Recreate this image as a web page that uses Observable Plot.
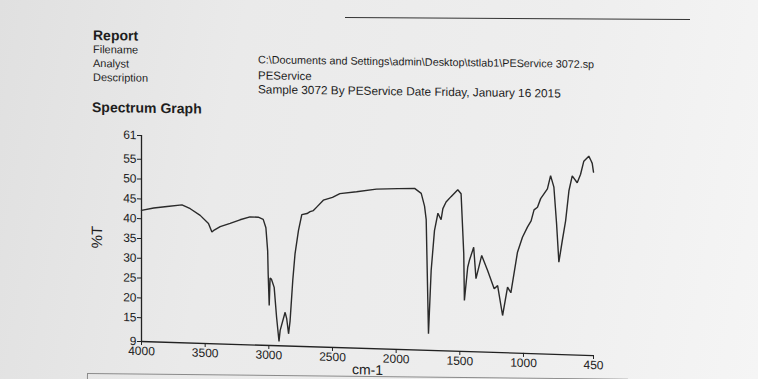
<!DOCTYPE html>
<html>
<head>
<meta charset="utf-8">
<script src="https://cdn.jsdelivr.net/npm/d3@7"></script>
<script src="https://cdn.jsdelivr.net/npm/@observablehq/plot@0.6"></script>
<style>
  html, body { margin: 0; padding: 0; }
  body {
    width: 758px; height: 379px; overflow: hidden; position: relative;
    background: linear-gradient(100deg, #e0e0e0 0%, #eaeaea 30%, #eeeeee 70%, #f5f5f5 100%);
    font-family: "Liberation Sans", Arial, sans-serif; color: #1e1e1e;
  }
  .t { position: absolute; white-space: nowrap; line-height: 0.9; }
  #header { position: absolute; left: 0; top: 0; width: 758px; height: 130px; transform: skewY(0.8deg); transform-origin: 93px 0; }
  #chart { position: absolute; left: 0; top: 0; transform: skewY(1.78deg); transform-origin: 141px 0; }
</style>
</head>
<body>
<div id="header">
  <div class="t" style="left:93px;top:29px;font-size:14px;font-weight:bold;">Report</div>
  <div class="t" style="left:93px;top:45px;font-size:11px;">Filename</div>
  <div class="t" style="left:93px;top:59px;font-size:11px;">Analyst</div>
  <div class="t" style="left:93px;top:73px;font-size:11px;">Description</div>
  <div class="t" style="left:258px;top:52.5px;font-size:10.8px;">C:\Documents and Settings\admin\Desktop\tstlab1\PEService 3072.sp</div>
  <div class="t" style="left:258px;top:68px;font-size:11.5px;">PEService</div>
  <div class="t" style="left:258px;top:81.5px;font-size:11.8px;">Sample 3072 By PEService Date Friday, January 16 2015</div>
  <div class="t" style="left:92px;top:101px;font-size:14px;font-weight:bold;">Spectrum Graph</div>
</div>
<div style="position:absolute;left:345px;top:18px;width:345px;height:1.2px;background:#333;transform:rotate(0.3deg);"></div>
<div style="position:absolute;left:87px;top:373px;width:540px;height:20px;border-top:1px solid #8a8a8a;border-left:1px solid #8a8a8a;transform:rotate(0.6deg);transform-origin:0 0;"></div>
<div id="chart"></div>
<script>
const wavenumbers = [
  4000, 3904, 3799, 3682, 3617, 3539, 3474, 3447, 3429, 3382, 3304, 3226, 3148, 3083, 3044, 3023,
  3009, 3005, 2997, 2990, 2980, 2958, 2939, 2920, 2911, 2872, 2860, 2845, 2833, 2812, 2794, 2767,
  2741, 2700, 2676, 2650, 2624, 2572, 2500, 2442, 2311, 2155, 1985, 1855, 1803, 1777, 1764, 1746,
  1725, 1699, 1672, 1647, 1633, 1608, 1569, 1516, 1490, 1469, 1464, 1438, 1425, 1391, 1373, 1328,
  1281, 1230, 1203, 1164, 1125, 1099, 1047, 1008, 969, 940, 917, 890, 865, 812, 787, 761,
  740, 722, 695, 669, 643, 617, 578, 552, 526, 487, 470, 460, 450
];
const transmittance = [
  42.1, 42.8, 43.3, 43.8, 42.9, 41.3, 39.3, 37.2, 37.7, 38.6, 39.5, 40.5, 41.3, 41.3, 40.8, 38.7,
  32.8, 27.0, 19.1, 26.0, 25.8, 23.7, 16.2, 10.1, 12.9, 17.5, 16.0, 12.1, 15.4, 25.6, 32.4, 38.3,
  42.3, 42.6, 43.1, 43.4, 44.3, 46.1, 46.9, 47.9, 48.5, 49.3, 49.6, 49.8, 48.6, 45.4, 42.0, 13.2,
  29.2, 39.3, 43.7, 42.1, 44.9, 46.6, 48.0, 49.8, 48.8, 33.7, 21.9, 30.3, 32.0, 35.4, 27.5, 33.4,
  29.6, 25.1, 25.9, 18.4, 25.6, 24.2, 34.5, 38.3, 40.9, 42.5, 45.3, 46.0, 48.2, 50.7, 54.1, 51.2,
  42.0, 32.3, 37.8, 42.8, 50.4, 54.2, 52.5, 54.6, 58.0, 59.3, 58.2, 57.5, 55.3
];
const xTicks = [4000, 3500, 3000, 2500, 2000, 1500, 1000, 450];
const yTicks = [61, 55, 50, 45, 40, 35, 30, 25, 20, 15, 9];

const data = wavenumbers.map((w, i) => ({w, t: transmittance[i]}));
const ink = "#222";

const chart = Plot.plot({
  width: 758,
  height: 379,
  marginLeft: 141,
  marginRight: 165,
  marginTop: 135,
  marginBottom: 38,
  style: {background: "transparent", fontFamily: "Liberation Sans, Arial, sans-serif", color: ink, overflow: "visible"},
  x: {domain: [4000, 450]},
  y: {domain: [9, 61]},
  marks: [
    Plot.ruleY([9], {stroke: ink, strokeWidth: 1.3}),
    Plot.ruleX([4000], {stroke: ink, strokeWidth: 1.3}),
    Plot.axisX({ticks: xTicks, tickFormat: d => String(d), tickSize: 4, tickPadding: 1, fontSize: 12,
      label: "cm-1", labelAnchor: "center", labelArrow: "none", labelOffset: 26, stroke: ink}),
    Plot.axisY({ticks: yTicks, tickFormat: d => String(d), tickSize: 4, tickPadding: 1, fontSize: 12,
      label: "%T", labelAnchor: "center", labelArrow: "none", labelOffset: 50, stroke: ink}),
    Plot.line(data, {x: "w", y: "t", stroke: "#2a2a2a", strokeWidth: 1.4, strokeLinejoin: "miter"})
  ]
});
document.getElementById("chart").appendChild(chart);
chart.querySelectorAll("g[aria-label='x-axis label'] text").forEach(t => t.setAttribute("font-size", 14));
chart.querySelectorAll("g[aria-label='y-axis label'] text").forEach(t => t.setAttribute("font-size", 15));
</script>
</body>
</html>
